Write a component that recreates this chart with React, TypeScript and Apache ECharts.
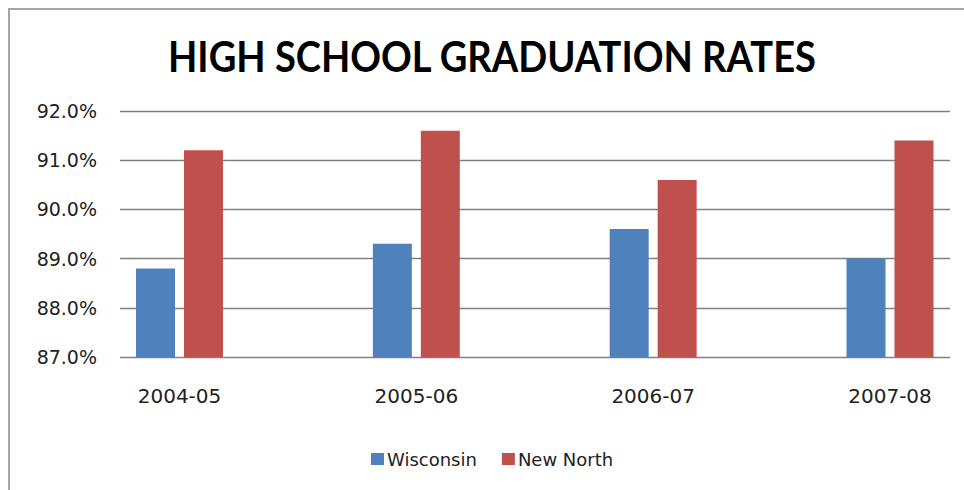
import React, { useEffect, useRef } from "react";
import * as echarts from "echarts";

const categories = ["2004-05", "2005-06", "2006-07", "2007-08"];
const wisconsin = [88.8, 89.3, 89.6, 89.0];
const newNorth = [91.2, 91.6, 90.6, 91.4];
const yTicks = { min: 87, max: 92, interval: 1 };
const titleText = "HIGH SCHOOL GRADUATION RATES";

export default function App() {
  const ref = useRef<HTMLDivElement>(null);
  useEffect(() => {
    if (!ref.current) return;
    const chart = echarts.init(ref.current, null, { renderer: "svg" });
    const idx = categories.map((_, i) => i);
    chart.setOption({
      animation: false,
      backgroundColor: "#ffffff",
      graphic: [
        {
          type: "rect",
          shape: { x: 9, y: 9, width: 1000, height: 1000 },
          style: { fill: "none", stroke: "#a6a6a6", lineWidth: 2 },
          z: 0,
        },
        {
          type: "text",
          x: 492,
          y: 56,
          scaleX: 0.907,
          style: {
            text: titleText,
            font: "bold 42px Lato",
            fill: "#000000",
            align: "center",
            verticalAlign: "middle",
          },
        },
      ],
      legend: {
        data: ["Wisconsin", "New North"],
        left: 366,
        top: 445,
        icon: "rect",
        itemWidth: 13,
        itemHeight: 12,
        itemGap: 25,
        textStyle: { fontFamily: "DejaVu Sans", fontSize: 18, color: "#222", padding: [0, 0, 0, -2] },
      },
      grid: { left: 120, width: 830, top: 111, height: 246 },
      xAxis: {
        type: "value",
        min: -0.2512,
        max: 3.2533,
        axisLine: { show: false },
        axisTick: { show: false },
        splitLine: { show: false },
        axisLabel: {
          customValues: idx,
          margin: 29,
          fontFamily: "DejaVu Sans",
          fontSize: 20,
          color: "#222",
          formatter: (v: number) => categories[Math.round(v)] ?? "",
        },
      },
      yAxis: {
        type: "value",
        min: yTicks.min,
        max: yTicks.max,
        interval: yTicks.interval,
        axisLine: { show: false },
        axisTick: { show: false },
        splitLine: { show: true, lineStyle: { color: "#808080", width: 1.4 } },
        axisLabel: {
          margin: 23,
          fontFamily: "DejaVu Sans",
          fontSize: 19,
          color: "#222",
          formatter: (v: number) => v.toFixed(1) + "%",
        },
      },
      series: [
        {
          name: "Wisconsin",
          type: "bar",
          data: wisconsin.map((v, i) => [i, v]),
          barWidth: 39,
          barGap: "23%",
          itemStyle: { color: "#4F81BD" },
        },
        {
          name: "New North",
          type: "bar",
          data: newNorth.map((v, i) => [i, v]),
          barWidth: 39,
          barGap: "23%",
          itemStyle: { color: "#C0504D" },
        },
      ],
    });
    return () => chart.dispose();
  }, []);
  return (
    <div
      ref={ref}
      style={{ position: "fixed", left: 0, top: 0, width: 964, height: 490 }}
    />
  );
}
